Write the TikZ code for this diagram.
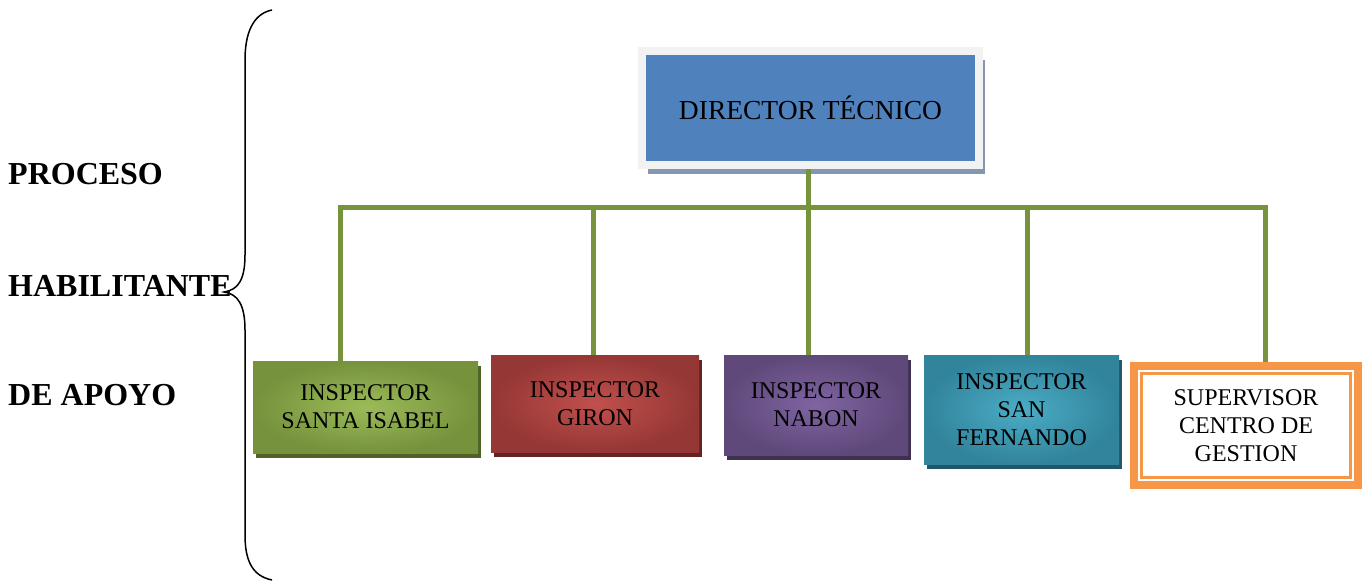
\documentclass[tikz,border=0pt]{standalone}
\usepackage{xcolor}
\usepackage{fontspec}
\setmainfont{Liberation Serif}
\usepackage{tikz}
\usetikzlibrary{shadows}

\definecolor{dirblue}{HTML}{4F81BD}
\definecolor{dirframe}{HTML}{F2F2F2}
\definecolor{dirshade}{HTML}{8497B0}
\definecolor{linkgreen}{HTML}{77933C}
\definecolor{suporange}{HTML}{F79646}
\definecolor{isabelin}{HTML}{9BBB59}
\definecolor{isabelout}{HTML}{76923C}
\definecolor{isabelsh}{HTML}{4F6228}
\definecolor{gironin}{HTML}{C0504D}
\definecolor{gironout}{HTML}{953735}
\definecolor{gironsh}{HTML}{632523}
\definecolor{nabonin}{HTML}{8064A2}
\definecolor{nabonout}{HTML}{5F497A}
\definecolor{nabonsh}{HTML}{3F3151}
\definecolor{fernin}{HTML}{4BACC6}
\definecolor{fernout}{HTML}{31849B}
\definecolor{fernsh}{HTML}{215968}

\tikzset{
    link/.style={draw=linkgreen,line width=5pt},
    inspbox/.style n args={3}{rectangle,inner sep=0pt,align=center,
        shading=radial,inner color=#1,outer color=#2,
        drop shadow={shadow xshift=3pt,shadow yshift=-5pt,fill=#3,opacity=1},
        font=\fontsize{24}{28}\selectfont},
    lbl/.style={anchor=base west,inner sep=0pt,font=\bfseries\fontsize{32}{34}\selectfont}
}

\begin{document}
\begin{tikzpicture}[x=1pt,y=-1pt]
        \useasboundingbox (0,0) rectangle (1367,585);

        % left labels and brace
        \node[lbl] (proc) at (8,185) {PROCESO};
        \node[lbl] (habi) at (8,296) {HABILITANTE};
        \node[lbl] (apoyo) at (8,405) {DE APOYO};
        \draw[line width=1.5pt] (272,10) .. controls (252,14) and (245,35) .. (245,60) -- (245,255)
            .. controls (245,280) and (238,290) .. (224,292)
            .. controls (238,294) and (245,305) .. (245,330) -- (245,535)
            .. controls (245,560) and (252,576) .. (272,580);

        % director
        \node[rectangle,draw=dirframe,line width=8pt,fill=dirblue,
            minimum width=337pt,minimum height=114.5pt,
            drop shadow={shadow xshift=6pt,shadow yshift=-9pt,fill=dirshade,opacity=1},
            font=\fontsize{27.5}{30}\selectfont] (dir) at (810.5,108) {DIRECTOR TÉCNICO};

        % inspectors
        \node[inspbox={isabelin}{isabelout}{isabelsh}, minimum width=225pt,minimum height=92pt] (isabel) at (365.5,407) {INSPECTOR\\SANTA ISABEL};
        \node[inspbox={gironin}{gironout}{gironsh}, minimum width=208pt,minimum height=97pt] (giron) at (595,403.5) {INSPECTOR\\GIRON};
        \node[inspbox={nabonin}{nabonout}{nabonsh}, minimum width=184pt,minimum height=100pt] (nabon) at (816,405) {INSPECTOR\\NABON};
        \node[inspbox={fernin}{fernout}{fernsh}, minimum width=195pt,minimum height=109pt] (fernando) at (1021.5,409.5) {INSPECTOR\\SAN\\FERNANDO};

        % supervisor
        \node[rectangle,draw=suporange,line width=8pt,fill=white,inner sep=0pt,align=center,
            minimum width=224pt,minimum height=119pt,
            font=\fontsize{24}{28}\selectfont] (sup) at (1246,425.5) {SUPERVISOR\\CENTRO DE\\GESTION};
        \draw[suporange,line width=2.5pt] ([shift={(11.5,11.5)}]sup.north west) rectangle ([shift={(-11.5,-11.5)}]sup.south east);

        % connectors
        \coordinate (t1) at (340,208);
        \coordinate (t2) at (593,208);
        \coordinate (t3) at (808,208);
        \coordinate (t4) at (1027,208);
        \coordinate (t5) at (1265,208);
        \draw[link] (t3 |- dir.south) -- (t3 |- nabon.north);
        \draw[link,line cap=rect] (t1) -- (t5);
        \draw[link] (t1) -- (t1 |- isabel.north);
        \draw[link] (t2) -- (t2 |- giron.north);
        \draw[link] (t4) -- (t4 |- fernando.north);
        \draw[link] (t5) -- (t5 |- sup.north);
    \end{tikzpicture}
\end{document}
